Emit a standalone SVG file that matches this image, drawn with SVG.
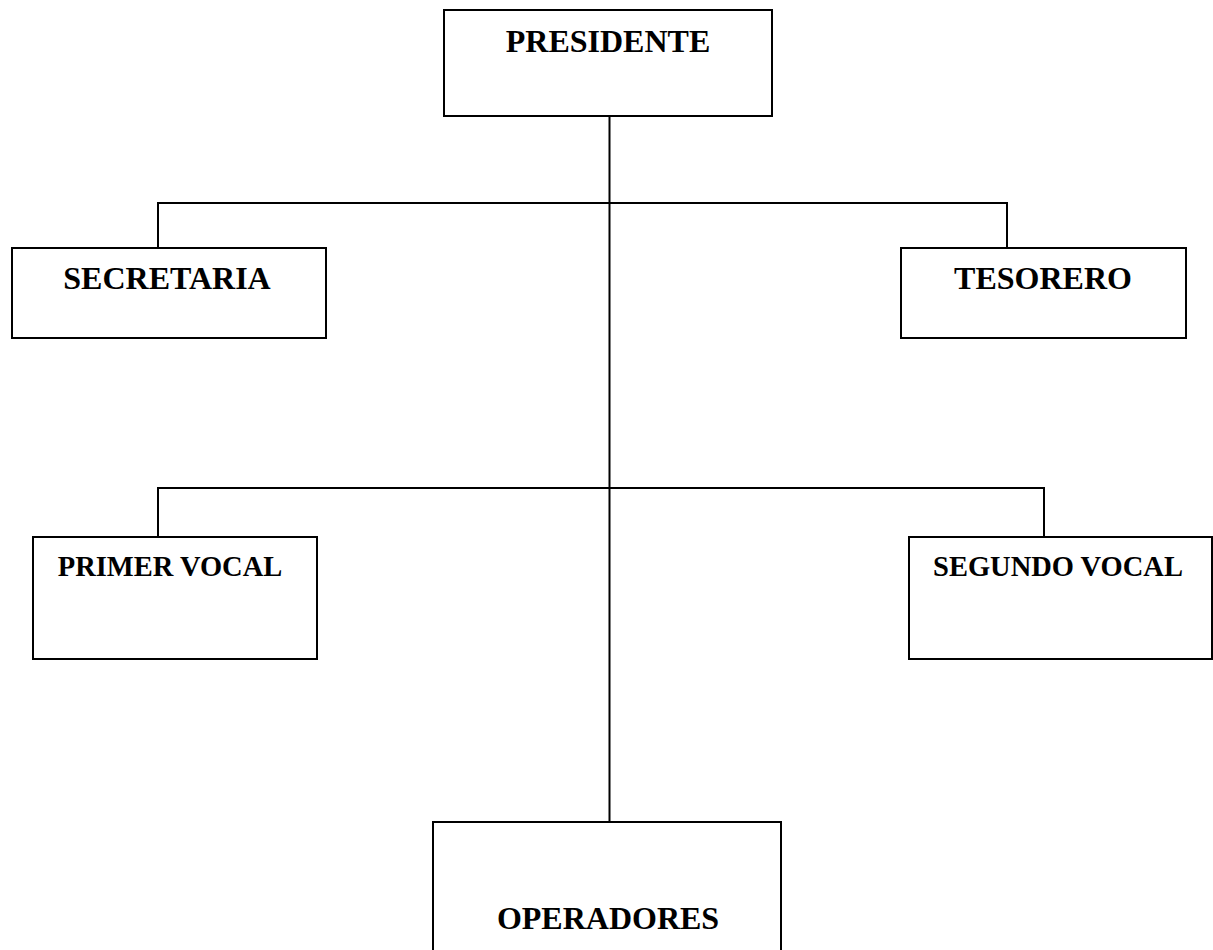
<svg xmlns="http://www.w3.org/2000/svg" width="1213" height="950" viewBox="0 0 1213 950">
<style>
.box{fill:#fff;stroke:#000;stroke-width:2}
.lbl{font-family:"Liberation Serif","Times New Roman",serif;font-weight:bold;font-size:32px;fill:#000;text-anchor:middle}
.sm{font-size:28.5px}
.ln{stroke:#000;stroke-width:2;fill:none}
</style>
<rect width="1213" height="950" fill="#fff"/>
<g id="connectors">
<line class="ln" x1="609.5" y1="116" x2="609.5" y2="822"/>
<polyline class="ln" points="158,248 158,203 1007,203 1007,248"/>
<polyline class="ln" points="158,537 158,488 1044,488 1044,537"/>
</g>
<g id="presidente">
<rect class="box" x="444" y="10" width="328" height="106"/>
<text class="lbl" x="608" y="52">PRESIDENTE</text>
</g>
<g id="secretaria">
<rect class="box" x="12" y="248" width="314" height="90"/>
<text class="lbl" x="167" y="289">SECRETARIA</text>
</g>
<g id="tesorero">
<rect class="box" x="901" y="248" width="285" height="90"/>
<text class="lbl" x="1043" y="289">TESORERO</text>
</g>
<g id="primer-vocal">
<rect class="box" x="33" y="537" width="284" height="122"/>
<text class="lbl sm" x="170" y="576">PRIMER VOCAL</text>
</g>
<g id="segundo-vocal">
<rect class="box" x="909" y="537" width="303" height="122"/>
<text class="lbl sm" x="1058" y="576">SEGUNDO VOCAL</text>
</g>
<g id="operadores">
<rect class="box" x="433" y="822" width="348" height="140"/>
<text class="lbl" x="608" y="929">OPERADORES</text>
</g>
</svg>
